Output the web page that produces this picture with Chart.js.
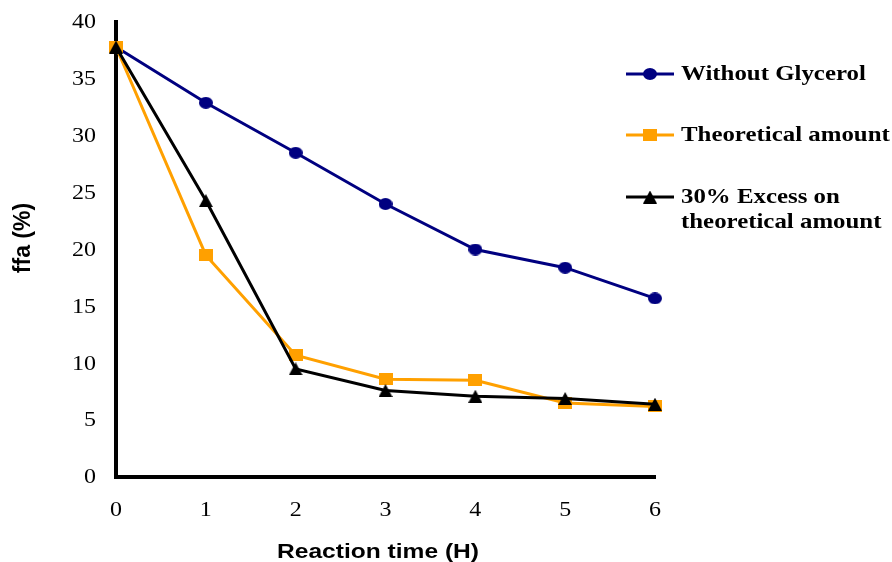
<!DOCTYPE html>
<html>
<head>
<meta charset="utf-8">
<script src="https://cdn.jsdelivr.net/npm/chart.js@4"></script>
<style>
    html, body { margin: 0; padding: 0; background: #fff; }
    #wrap { width: 892px; height: 562px; position: relative; }
</style>
</head>
<body>
<div id="wrap"><canvas id="chart"></canvas></div>
<script>
// ===============================
// DATI
// ===============================
const hours = [0, 1, 2, 3, 4, 5, 6];
const withoutGlycerol = [37.8, 32.9, 28.5, 24.0, 20.0, 18.4, 15.7];
const theoretical = [37.8, 19.5, 10.7, 8.6, 8.5, 6.5, 6.2];
const excess30 = [37.8, 24.3, 9.5, 7.6, 7.1, 6.9, 6.4];
const yTicks = [0, 5, 10, 15, 20, 25, 30, 35, 40];
const xTicks = [0, 1, 2, 3, 4, 5, 6];

const seriesNames = ["Without Glycerol", "Theoretical amount", ["30% Excess on", "theoretical amount"]];
const xTitle = "Reaction time (H)";
const yTitle = "ffa (%)";

const toPoints = vals => vals.map((v, i) => ({ x: hours[i], y: v }));

// il grafico originale e' un po' "stirato" in orizzontale
const STRETCH = 1.2;
const SERIF = "'Liberation Serif', 'Times New Roman', serif";
const SANS = "'Liberation Sans', Arial, sans-serif";

// ===============================
// MARKER (ellisse, quadrato, triangolo)
// ===============================
function makeMarker(shape, color, w, h) {
    const c = document.createElement("canvas");
    c.width = w;
    c.height = h;
    const g = c.getContext("2d");
    g.fillStyle = color;
    g.beginPath();
    if (shape === "circle") {
        g.ellipse(w / 2, h / 2, w / 2, h / 2, 0, 0, Math.PI * 2);
    } else if (shape === "rect") {
        g.rect(0, 0, w, h);
    } else {
        g.moveTo(w / 2, 0);
        g.lineTo(w, h);
        g.lineTo(0, h);
        g.closePath();
    }
    g.fill();
    return c;
}

const markerBlue = makeMarker("circle", "#000080", 14, 12);
const markerOrange = makeMarker("rect", "#FFA000", 14, 12);
const markerBlack = makeMarker("triangle", "#000000", 14, 13);

function stretchedText(ctx, text, x, y, align, sx) {
    ctx.save();
    ctx.translate(x, y);
    ctx.scale(sx, 1);
    ctx.textAlign = align;
    ctx.fillText(text, 0, 0);
    ctx.restore();
}

// ===============================
// ETICHETTE ASSI + LEGENDA
// ===============================
const decorations = {
    id: "decorations",
    afterDraw(chart) {
        const ctx = chart.ctx;
        const xs = chart.scales.x;
        const ys = chart.scales.y;
        ctx.save();
        ctx.fillStyle = "#000";
        ctx.textBaseline = "middle";

        // tick
        ctx.font = "20px " + SERIF;
        yTicks.forEach(v => stretchedText(ctx, String(v), 96, ys.getPixelForValue(v) + 1, "right", STRETCH));
        xTicks.forEach(v => stretchedText(ctx, String(v), xs.getPixelForValue(v), 511, "center", STRETCH));

        // titoli
        ctx.font = "bold 21px " + SANS;
        stretchedText(ctx, xTitle, 378, 552, "center", 1.17);
        ctx.save();
        ctx.translate(24, 238);
        ctx.rotate(-Math.PI / 2);
        ctx.font = "bold 23px " + SANS;
        ctx.textAlign = "center";
        ctx.fillText(yTitle, 0, 0);
        ctx.restore();

        // legenda
        const rows = [74, 135, 197];
        const markers = [markerBlue, markerOrange, markerBlack];
        chart.data.datasets.forEach((ds, i) => {
            const y = rows[i];
            ctx.strokeStyle = ds.borderColor;
            ctx.lineWidth = 3;
            ctx.beginPath();
            ctx.moveTo(626, y);
            ctx.lineTo(674, y);
            ctx.stroke();
            const m = markers[i];
            ctx.drawImage(m, 650 - m.width / 2, y - m.height / 2);

            ctx.fillStyle = "#000";
            ctx.font = "bold 22px " + SERIF;
            const name = seriesNames[i];
            const lines = Array.isArray(name) ? name : [name];
            lines.forEach((t, k) => stretchedText(ctx, t, 681, y + k * 25, "left", 1.13));
        });
        ctx.restore();
    }
};

// ===============================
// GRAFICO
// ===============================
new Chart(document.getElementById("chart"), {
    type: "line",
    data: {
        datasets: [
            {
                label: "Without Glycerol",
                data: toPoints(withoutGlycerol),
                borderColor: "#000080",
                pointStyle: markerBlue,
                borderWidth: 3,
                clip: false,
                order: 3
            },
            {
                label: "Theoretical amount",
                data: toPoints(theoretical),
                borderColor: "#FFA000",
                pointStyle: markerOrange,
                borderWidth: 3,
                clip: false,
                order: 2
            },
            {
                label: "30% Excess on theoretical amount",
                data: toPoints(excess30),
                borderColor: "#000000",
                pointStyle: markerBlack,
                borderWidth: 3,
                clip: false,
                order: 1
            }
        ]
    },
    options: {
        responsive: true,
        maintainAspectRatio: false,
        animation: false,
        layout: { padding: { top: 22, right: 237, left: 0, bottom: 0 } },
        plugins: { legend: { display: false }, tooltip: { enabled: false } },
        scales: {
            x: {
                type: "linear",
                min: 0,
                max: 6,
                grid: { display: false, drawTicks: false },
                border: { color: "#000", width: 4 },
                ticks: { display: false, stepSize: 1 },
                afterFit: s => { s.height = 85; }
            },
            y: {
                min: 0,
                max: 40,
                grid: { display: false, drawTicks: false },
                border: { color: "#000", width: 4 },
                ticks: { display: false, stepSize: 5 },
                afterFit: s => { s.width = 116; }
            }
        }
    },
    plugins: [decorations]
});
</script>
</body>
</html>
